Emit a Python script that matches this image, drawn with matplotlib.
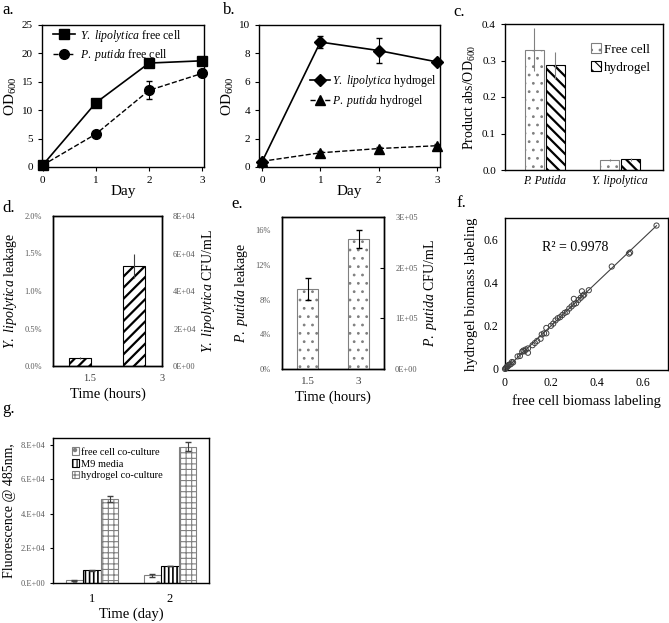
import numpy as np
import matplotlib.pyplot as plt
from matplotlib.ticker import FuncFormatter
from matplotlib.patches import Patch

plt.rcParams['font.family'] = ['Liberation Serif', 'DejaVu Sans']
plt.rcParams['mathtext.fontset'] = 'custom'
plt.rcParams['mathtext.rm'] = 'Liberation Serif'
plt.rcParams['mathtext.it'] = 'Liberation Serif:italic'
plt.rcParams['hatch.linewidth'] = 0.8
plt.rcParams['axes.linewidth'] = 1.0

# ---- data ----
days = [0, 1, 2, 3]
yl_free = [0.3, 11.3, 18.3, 18.7]
yl_free_err = [0.1, 0.3, 0.3, 0.3]
pp_free = [0.3, 5.8, 13.5, 16.5]
pp_free_err = [0.1, 0.3, 1.6, 0.4]

yl_gel = [0.35, 8.8, 8.2, 7.4]
yl_gel_err = [0.05, 0.45, 0.9, 0.15]
pp_gel = [0.4, 1.0, 1.3, 1.5]
pp_gel_err = [0.05, 0.1, 0.1, 0.1]

prod_species = ['P. Putida', 'Y. lipolytica']
prod_free = [0.330, 0.028]
prod_free_err = [0.058, 0.003]
prod_gel = [0.287, 0.029]
prod_gel_err = [0.037, 0.003]

leak_time = ['1.5', '3']
yl_leak = [0.0011, 0.0133]
yl_leak_err = [0.0001, 0.0016]
pp_leak = [0.092, 0.150]
pp_leak_err = [0.0125, 0.0105]

free_label = [0, 0.003, 0.005, 0.008, 0.012, 0.015, 0.02, 0.025, 0.03, 0.035,
              0.055, 0.065, 0.075, 0.08, 0.085, 0.09, 0.10, 0.10, 0.12, 0.13,
              0.14, 0.155, 0.16, 0.17, 0.18, 0.18, 0.20, 0.21, 0.22, 0.23,
              0.24, 0.25, 0.26, 0.27, 0.28, 0.29, 0.30, 0.31, 0.30, 0.32,
              0.33, 0.34, 0.335, 0.345, 0.365, 0.465, 0.54, 0.545, 0.66]
gel_label = [0, 0.002, 0.006, 0.010, 0.012, 0.018, 0.020, 0.022, 0.032, 0.030,
             0.058, 0.060, 0.080, 0.085, 0.082, 0.090, 0.075, 0.095, 0.110, 0.120,
             0.130, 0.140, 0.160, 0.165, 0.165, 0.190, 0.200, 0.210, 0.225, 0.235,
             0.240, 0.250, 0.260, 0.265, 0.280, 0.290, 0.300, 0.305, 0.325, 0.320,
             0.330, 0.340, 0.360, 0.345, 0.365, 0.475, 0.535, 0.540, 0.665]

fl_days = ['1', '2']
fl_free = [1600, 4400]
fl_free_err = [200, 900]
fl_m9 = [7400, 9800]
fl_m9_err = [200, 200]
fl_gel = [48800, 79000]
fl_gel_err = [1800, 2600]

W, H = 669, 623
fig = plt.figure(figsize=(W / 100, H / 100), dpi=100)


def box(l, t, r, b):
    return fig.add_axes([l / W, 1 - b / H, (r - l) / W, (b - t) / H])


def hatch_lw(bars, w):
    for p in bars:
        if hasattr(p, 'set_hatch_linewidth'):
            p.set_hatch_linewidth(w)


def panel_letter(s, x, y):
    fig.text(x / W, 1 - y / H, s, fontsize=12, va='baseline', ha='left')


YL = r'$\mathit{Y.}$ $\mathit{lipolytica}$'
PP = r'$\mathit{P.}$ $\mathit{putida}$'
gray = '#595959'

# ---- a ----
ax = box(42, 25, 204, 167)
ax.errorbar(days, yl_free, yerr=yl_free_err, fmt='none', ecolor='k',
            elinewidth=0.8, capsize=2)
ax.errorbar(days, pp_free, yerr=pp_free_err, fmt='none', ecolor='k',
            elinewidth=0.8, capsize=2)
ax.plot(days, yl_free, '-s', color='k', ms=7, lw=1.2, clip_on=False,
        label=YL + ' free cell')
ax.plot(days, pp_free, '--o', color='k', ms=7, lw=1.0, clip_on=False,
        label=PP + ' free cell')
ax.set_xlim(-0.01, 3.03)
ax.set_ylim(0, 25)
ax.set_xticks(days)
ax.set_yticks(range(0, 26, 5))
ax.tick_params(direction='out', length=3, labelsize=8)
ax.set_xlabel('Day', fontsize=11, labelpad=0)
ax.set_ylabel(r'OD$_{600}$', fontsize=11, labelpad=2)
ax.legend(loc='upper left', bbox_to_anchor=(0.037, 1.015), frameon=False,
          fontsize=8.5, handlelength=1.9, borderaxespad=0, labelspacing=0.3,
          handletextpad=0.4)

# ---- b ----
ax = box(259, 25, 440, 167)
ax.errorbar(days, yl_gel, yerr=yl_gel_err, fmt='none', ecolor='k',
            elinewidth=0.8, capsize=2)
ax.errorbar(days, pp_gel, yerr=pp_gel_err, fmt='none', ecolor='k',
            elinewidth=0.8, capsize=2)
ax.plot(days, yl_gel, '-D', color='k', ms=6, lw=1.2, clip_on=False,
        label=YL + ' hydrogel')
ax.plot(days, pp_gel, '--^', color='k', ms=7, lw=1.0, clip_on=False,
        label=PP + ' hydrogel')
ax.set_xlim(-0.05, 3.05)
ax.set_ylim(0, 10)
ax.set_xticks(days)
ax.set_yticks(range(0, 11, 2))
ax.tick_params(direction='out', length=3, labelsize=8)
ax.set_xlabel('Day', fontsize=11, labelpad=0)
ax.set_ylabel(r'OD$_{600}$', fontsize=11, labelpad=2)
ax.legend(loc='center left', bbox_to_anchor=(0.254, 0.535), frameon=False,
          fontsize=8.5, handlelength=1.7, labelspacing=0.35, handletextpad=0.2,
          borderaxespad=0)

# ---- c ----
ax = box(505, 24, 663, 170)
xc = np.arange(len(prod_species))
b1 = ax.bar(xc - 0.14, prod_free, 0.25, color='white', edgecolor='#808080',
            hatch='..', lw=0.8)
b2 = ax.bar(xc + 0.14, prod_gel, 0.25, color='white', edgecolor='k',
            hatch='\\\\\\', lw=0.8)
hatch_lw(b2, 1.6)
ax.errorbar(xc - 0.14, prod_free, yerr=prod_free_err, fmt='none', ecolor='#808080',
            elinewidth=0.8, capsize=0)
ax.errorbar(xc + 0.14, prod_gel, yerr=prod_gel_err, fmt='none', ecolor='#808080',
            elinewidth=0.8, capsize=0)
ax.set_xlim(-0.53, 1.57)
ax.set_ylim(0, 0.4)
ax.set_yticks([0, 0.1, 0.2, 0.3, 0.4])
ax.yaxis.set_major_formatter(FuncFormatter(lambda v, p: f'{v:.1f}'))
ax.set_xticks(xc)
ax.set_xticklabels(prod_species, fontstyle='italic')
ax.tick_params(axis='x', length=0, labelsize=8.5)
ax.tick_params(axis='y', direction='out', length=3, labelsize=8)
ax.set_ylabel(r'Product abs/OD$_{600}$', fontsize=10, labelpad=3)
h1 = Patch(facecolor='white', edgecolor='#808080', hatch='..', lw=0.8, label='Free cell')
h2 = Patch(facecolor='white', edgecolor='k', hatch='\\\\\\', lw=0.8, label='hydrogel')
ax.legend(handles=[h1, h2], loc='upper right', frameon=False, fontsize=9.5,
          handlelength=0.8, handleheight=0.8, handletextpad=0.2,
          bbox_to_anchor=(1.0, 0.95), labelspacing=0.4)

# ---- d ----
ax = box(53, 216, 162, 366)
xd = [0.25, 0.745]
bd = ax.bar(xd, yl_leak, 0.2, color='white', edgecolor='k', hatch='///', lw=0.8)
hatch_lw(bd, 1.6)
ax.errorbar(xd, yl_leak, yerr=yl_leak_err, fmt='none', ecolor='#404040',
            elinewidth=0.8, capsize=0)
ax.set_xlim(0, 1)
ax.set_ylim(0, 0.02)
ax.set_yticks(np.arange(0, 0.0201, 0.005))
ax.yaxis.set_major_formatter(FuncFormatter(lambda v, p: f'{v * 100:.1f}%'))
ax.set_xticks([0.34, 1.0])
ax.set_xticklabels(leak_time)
ax.tick_params(axis='x', length=0, labelsize=7.5, labelcolor='#404040', pad=6)
ax.tick_params(axis='y', length=0, labelsize=6, labelcolor=gray, pad=8)
ax.set_xlabel('Time (hours)', fontsize=10.5, labelpad=3)
ax.set_ylabel(YL + ' leakage', fontsize=10, labelpad=4)
ax2 = ax.twinx()
ax2.set_ylim(0, 8e4)
ax2.set_yticks(np.arange(0, 8.01e4, 2e4))
ax2.yaxis.set_major_formatter(FuncFormatter(lambda v, p: f'{int(v / 10 ** 4) if v else 0}E+0{4 if v else 0}'))
ax2.tick_params(axis='y', length=0, labelsize=6, labelcolor=gray, pad=8)
ax2.set_ylabel(YL + ' CFU/mL', fontsize=10, labelpad=3)

# ---- e ----
ax = box(282, 217, 384, 369)
xe = [0.25, 0.75]
be = ax.bar(xe, pp_leak, 0.205, color='white', edgecolor='#808080', hatch='..', lw=0.8)
ax.errorbar(xe, pp_leak, yerr=pp_leak_err, fmt='none', ecolor='k',
            elinewidth=0.8, capsize=2)
ax.set_xlim(0, 1)
ax.set_ylim(0, 0.175)
ax.set_yticks(np.arange(0, 0.161, 0.04))
ax.yaxis.set_major_formatter(FuncFormatter(lambda v, p: f'{v * 100:.0f}%'))
ax.set_xticks(xe)
ax.set_xticklabels(leak_time)
ax.tick_params(axis='x', length=0, labelsize=8, labelcolor='#404040', pad=6)
ax.tick_params(axis='y', length=0, labelsize=6, labelcolor=gray, pad=8)
ax.set_xlabel('Time (hours)', fontsize=10.5, labelpad=3)
ax.set_ylabel(PP + ' leakage', fontsize=10, labelpad=4)
ax2 = ax.twinx()
ax2.set_ylim(0, 3e5)
ax2.set_yticks(np.arange(0, 3.01e5, 1e5))
ax2.yaxis.set_major_formatter(FuncFormatter(lambda v, p: f'{int(round(v / 1e5)) if v else 0}E+0{5 if v else 0}'))
ax2.tick_params(axis='y', direction='in', length=3, labelsize=6, labelcolor=gray, pad=8)
ax2.set_ylabel(PP + ' CFU/mL', fontsize=10, labelpad=3)

# ---- f ----
ax = box(505, 218, 668, 370)
ax.scatter(free_label, gel_label, s=14, facecolors='none', edgecolors='#404040',
           lw=0.7, clip_on=False, zorder=3)
slope, icpt = np.polyfit(free_label, gel_label, 1)
xf = np.array([min(free_label), max(free_label)])
ax.plot(xf, slope * xf + icpt, color='#404040', lw=0.8)
ax.text(0.16, 0.545, 'R² = 0.9978', fontsize=10)
ax.set_xlim(0, 0.71)
ax.set_ylim(-0.005, 0.7)
ax.set_xticks([0, 0.2, 0.4, 0.6])
ax.set_yticks([0, 0.2, 0.4, 0.6])
ax.xaxis.set_major_formatter(FuncFormatter(lambda v, p: '0' if v == 0 else f'{v:.1f}'))
ax.yaxis.set_major_formatter(FuncFormatter(lambda v, p: '0' if v == 0 else f'{v:.1f}'))
ax.tick_params(length=0, labelsize=8.5, pad=5)
ax.set_xlabel('free cell biomass labeling', fontsize=10.5, labelpad=4)
ax.set_ylabel('hydrogel biomass labeling', fontsize=10.5, labelpad=4)

# ---- g ----
ax = box(53, 438, 209, 583)
xg = np.arange(1, len(fl_days) + 1)
bg1 = ax.bar(xg - 0.225, fl_free, 0.22, color='white', edgecolor='#808080', hatch='.',
             lw=0.8, label='free cell co-culture')
bg2 = ax.bar(xg, fl_m9, 0.22, color='white', edgecolor='k', hatch='||||',
             lw=0.8, label='M9 media')
bg3 = ax.bar(xg + 0.225, fl_gel, 0.22, color='white', edgecolor='#808080', hatch='+++',
             lw=0.8, label='hydrogel co-culture')
hatch_lw(bg2, 1.2)
for xx, vv, ee in [(xg - 0.225, fl_free, fl_free_err), (xg, fl_m9, fl_m9_err),
                   (xg + 0.225, fl_gel, fl_gel_err)]:
    ax.errorbar(xx, vv, yerr=ee, fmt='none', ecolor='#404040', elinewidth=0.8, capsize=2)
ax.set_xlim(0.5, 2.5)
ax.set_ylim(0, 84000)
ax.set_xticks(xg)
ax.set_xticklabels(fl_days)
ax.set_yticks(np.arange(0, 80001, 20000))
ax.yaxis.set_major_formatter(FuncFormatter(lambda v, p: f'{int(v / 1e4) if v else 0}.E+0{4 if v else 0}'))
ax.tick_params(axis='x', length=0, labelsize=9, pad=7)
ax.tick_params(axis='y', direction='out', length=2, labelsize=6, labelcolor=gray)
ax.set_xlabel('Time (day)', fontsize=10.5, labelpad=2)
ax.set_ylabel('Fluorescence @ 485nm,', fontsize=10, labelpad=3)
ax.legend(loc='upper left', frameon=False, fontsize=7.5, handlelength=0.7,
          handleheight=0.7, handletextpad=0.2, labelspacing=0.25,
          bbox_to_anchor=(0.06, 1.0))

# ---- panel letters ----
panel_letter('a.', 2, 14)
panel_letter('b.', 223, 14)
panel_letter('c.', 453, 16)
panel_letter('d.', 2, 212)
panel_letter('e.', 231, 208)
panel_letter('f.', 456, 207)
panel_letter('g.', 2, 413)

fig.savefig('out.png', dpi=100)
